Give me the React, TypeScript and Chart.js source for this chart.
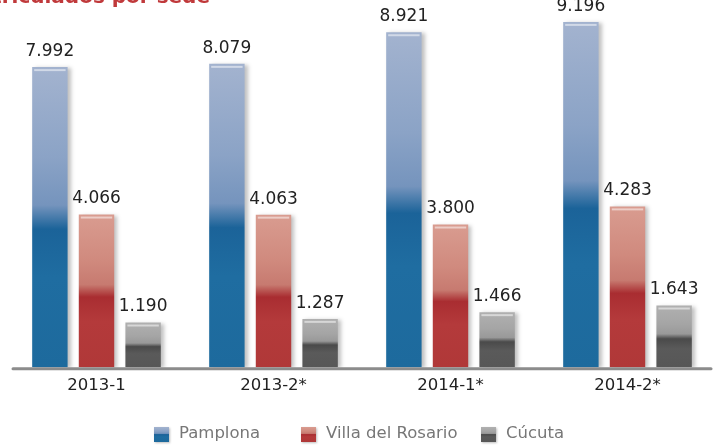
import React, { useEffect, useRef } from "react";
import { Chart, registerables } from "chart.js";

Chart.register(...registerables);

const categories = ["2013-1", "2013-2*", "2014-1*", "2014-2*"];
const seriesNames = ["Pamplona", "Villa del Rosario", "Cúcuta"];
const pamplona = [7992, 8079, 8921, 9196];
const villaDelRosario = [4066, 4063, 3800, 4283];
const cucuta = [1190, 1287, 1466, 1643];
const titleText = "Estudiantes matriculados por sede";

const gradStops: string[][] = [
  ["#a3b3cf", "#8ba3c6", "#7594bd", "#1b6399", "#1f6da1", "#1d6a9d"],
  ["#d99c90", "#d08a7e", "#c77a70", "#a92d31", "#b43a3b", "#b03838"],
  ["#b0b0b0", "#a5a5a5", "#999999", "#4a4a4a", "#5a5a5a", "#575757"],
];
const stopPos = [0, 0.3, 0.46, 0.54, 0.7, 1];

function makeGrad(c: CanvasRenderingContext2D, top: number, bot: number, i: number) {
  const g = c.createLinearGradient(0, top, 0, bot);
  gradStops[i].forEach((col, k) => g.addColorStop(stopPos[k], col));
  return g;
}

function fmt(v: number) {
  return String(v).replace(/\B(?=(\d{3})+(?!\d))/g, ".");
}

const FONT = "'DejaVu Sans', sans-serif";

export default function App() {
  const ref = useRef<HTMLCanvasElement>(null);
  useEffect(() => {
    if (!ref.current) return;
    const seriesData = [pamplona, villaDelRosario, cucuta];
    const bg = (i: number) => (context: any) => {
      const chart = context.chart;
      if (!chart.chartArea || context.parsed == null) return gradStops[i][3];
      const ys = chart.scales.y;
      const top = ys.getPixelForValue(context.parsed.y);
      const bot = ys.getPixelForValue(0);
      return makeGrad(chart.ctx, top, bot, i);
    };
    const decor = {
      id: "decor",
      beforeDatasetsDraw(chart: any) {
        const c = chart.ctx;
        const a = chart.chartArea;
        c.save();
        c.strokeStyle = "#8c8c8c";
        c.lineWidth = 3;
        c.lineCap = "round";
        c.beginPath();
        c.moveTo(a.left + 5, a.bottom + 1.5);
        c.lineTo(a.right - 5, a.bottom + 1.5);
        c.stroke();
        c.restore();
      },
      beforeDatasetDraw(chart: any) {
        const c = chart.ctx;
        c.save();
        c.shadowColor = "rgba(0,0,0,0.25)";
        c.shadowBlur = 4;
        c.shadowOffsetX = 3;
        c.shadowOffsetY = 1;
      },
      afterDatasetDraw(chart: any) {
        chart.ctx.restore();
      },
      afterDatasetsDraw(chart: any) {
        const c = chart.ctx;
        c.save();
        c.font = `17px ${FONT}`;
        c.textAlign = "center";
        c.textBaseline = "bottom";
        chart.data.datasets.forEach((ds: any, di: number) => {
          const meta = chart.getDatasetMeta(di);
          meta.data.forEach((bar: any, j: number) => {
            c.fillStyle = "#222";
            c.fillText(fmt(ds.data[j]), bar.x, bar.y - 7);
            c.fillStyle = "rgba(255,255,255,0.5)";
            c.fillRect(bar.x - bar.width / 2 + 2, bar.y + 2, bar.width - 4, 2);
          });
        });
        // title (cropped at top)
        c.font = `bold 20px ${FONT}`;
        c.fillStyle = "#c0393b";
        c.textAlign = "right";
        c.textBaseline = "alphabetic";
        c.fillText(titleText, 210, 3);
        // legend
        const items = [
          { x: 154, label: seriesNames[0] },
          { x: 301, label: seriesNames[1] },
          { x: 481, label: seriesNames[2] },
        ];
        const ly = 434;
        c.font = `16.5px ${FONT}`;
        c.textAlign = "left";
        c.textBaseline = "middle";
        items.forEach((it, i) => {
          c.save();
          c.shadowColor = "rgba(0,0,0,0.25)";
          c.shadowBlur = 2;
          c.shadowOffsetX = 1;
          c.shadowOffsetY = 1;
          c.fillStyle = makeGrad(c, ly - 7, ly + 7, i);
          c.fillRect(it.x, ly - 7, 15, 15);
          c.restore();
          c.fillStyle = "#777";
          c.fillText(it.label, it.x + 25, ly);
        });
        c.restore();
      },
    };
    const chart = new Chart(ref.current, {
      type: "bar",
      data: {
        labels: categories,
        datasets: seriesNames.map((n, i) => ({
          label: n,
          data: seriesData[i],
          backgroundColor: bg(i),
          borderWidth: 0,
          categoryPercentage: 0.79,
          barPercentage: 0.76,
        })),
      },
      options: {
        animation: false,
        responsive: false,
        maintainAspectRatio: false,
        layout: { padding: { left: 8, right: 0, top: 10.5, bottom: 48 } },
        plugins: {
          legend: { display: false },
          tooltip: { enabled: false },
        },
        scales: {
          x: {
            grid: { display: false },
            border: { display: false },
            ticks: { color: "#222", font: { size: 16.5, family: FONT }, padding: 1 },
          },
          y: {
            display: false,
            min: 0,
            max: 9500,
          },
        },
      },
      plugins: [decor],
    });
    return () => chart.destroy();
  }, []);
  return (
    <div style={{ position: "fixed", left: 0, top: 0, width: 716, height: 445, background: "#fff" }}>
      <canvas ref={ref} width={716} height={445} style={{ width: 716, height: 445 }} />
    </div>
  );
}
